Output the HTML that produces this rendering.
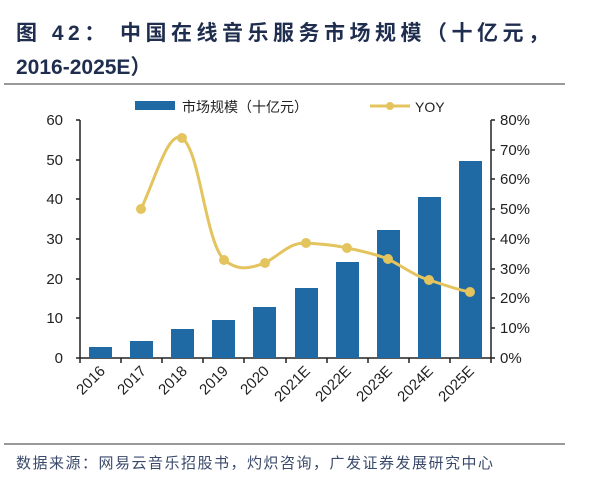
<!DOCTYPE html>
<html><head><meta charset="utf-8"><style>
body{margin:0;background:#fff;width:600px;height:483px;overflow:hidden;font-family:"Liberation Sans","Noto Sans CJK SC",sans-serif}
</style></head><body>
<svg width="600" height="483" xmlns="http://www.w3.org/2000/svg" font-family="Liberation Sans, Noto Sans CJK SC, sans-serif">
<text x="16" y="40" font-size="21" font-weight="bold" fill="#1f2d4e" letter-spacing="4.5">图 42： 中国在线音乐服务市场规模（十亿元，</text>
<text x="16" y="74" font-size="21" font-weight="bold" fill="#1f2d4e">2016-2025E）</text>
<line x1="4" y1="84" x2="565" y2="84" stroke="#333" stroke-width="1"/>
<line x1="4" y1="444" x2="565" y2="444" stroke="#333" stroke-width="1"/>
<text x="16" y="468" font-size="15" fill="#3a4a6b" letter-spacing="1.5">数据来源：网易云音乐招股书，灼炽咨询，广发证券发展研究中心</text>
<rect x="135" y="101" width="40" height="9" fill="#1f6aa5"/>
<text x="182" y="112" font-size="14" fill="#222">市场规模（十亿元）</text>
<line x1="370" y1="106" x2="410" y2="106" stroke="#e3c45e" stroke-width="3"/>
<circle cx="390" cy="106" r="4" fill="#e3c45e"/>
<text x="415" y="112" font-size="14" fill="#222">YOY</text>
<g stroke="#222" stroke-width="1.5" fill="none">
<line x1="80" y1="120" x2="80" y2="358"/>
<line x1="491" y1="120" x2="491" y2="358"/>
<line x1="80" y1="358" x2="491" y2="358"/>
<path d="M76 120H80M76 160H80M76 199H80M76 239H80M76 279H80M76 318H80M76 358H80"/>
<path d="M491 120H495M491 150H495M491 179H495M491 209H495M491 239H495M491 269H495M491 298H495M491 328H495M491 358H495"/>
<path d="M80 358V363M121 358V363M162 358V363M203 358V363M244 358V363M286 358V363M327 358V363M368 358V363M409 358V363M450 358V363M491 358V363"/>
</g>
<g font-size="15" fill="#222" text-anchor="end">
<text x="63" y="125">60</text><text x="63" y="165">50</text><text x="63" y="204">40</text><text x="63" y="244">30</text><text x="63" y="284">20</text><text x="63" y="323">10</text><text x="63" y="363">0</text>
</g>
<g font-size="15" fill="#222">
<text x="500" y="125">80%</text><text x="500" y="155">70%</text><text x="500" y="184">60%</text><text x="500" y="214">50%</text><text x="500" y="244">40%</text><text x="500" y="274">30%</text><text x="500" y="303">20%</text><text x="500" y="333">10%</text><text x="500" y="363">0%</text>
</g>
<g fill="#1f6aa5">
<rect x="89" y="347" width="23" height="11"/>
<rect x="130" y="341" width="23" height="17"/>
<rect x="171" y="329" width="23" height="29"/>
<rect x="212" y="320" width="23" height="38"/>
<rect x="253" y="307" width="23" height="51"/>
<rect x="295" y="288" width="23" height="70"/>
<rect x="336" y="262" width="23" height="96"/>
<rect x="377" y="230" width="23" height="128"/>
<rect x="418" y="197" width="23" height="161"/>
<rect x="459" y="161" width="23" height="197"/>
</g>
<path d="M141 209 C155 180,168 130,182 138 C200 150,205 240,224 260 C240 272,250 268,265 263 C280 255,290 242,306 243 C322 244,335 245,347 248 C362 251,375 254,388 259 C402 266,415 276,429 280 C445 285,458 290,470 292" fill="none" stroke="#e3c45e" stroke-width="3"/>
<g fill="#e3c45e">
<circle cx="141" cy="209" r="5"/><circle cx="182" cy="138" r="5"/><circle cx="224" cy="260" r="5"/><circle cx="265" cy="263" r="5"/><circle cx="306" cy="243" r="5"/><circle cx="347" cy="248" r="5"/><circle cx="388" cy="259" r="5"/><circle cx="429" cy="280" r="5"/><circle cx="470" cy="292" r="5"/>
</g>
<g font-size="15" fill="#222" text-anchor="end">
<text transform="translate(106,372) rotate(-45)">2016</text>
<text transform="translate(147,372) rotate(-45)">2017</text>
<text transform="translate(188,372) rotate(-45)">2018</text>
<text transform="translate(229,372) rotate(-45)">2019</text>
<text transform="translate(270,372) rotate(-45)">2020</text>
<text transform="translate(311,372) rotate(-45)">2021E</text>
<text transform="translate(352,372) rotate(-45)">2022E</text>
<text transform="translate(393,372) rotate(-45)">2023E</text>
<text transform="translate(434,372) rotate(-45)">2024E</text>
<text transform="translate(475,372) rotate(-45)">2025E</text>
</g>
</svg>
</body></html>
